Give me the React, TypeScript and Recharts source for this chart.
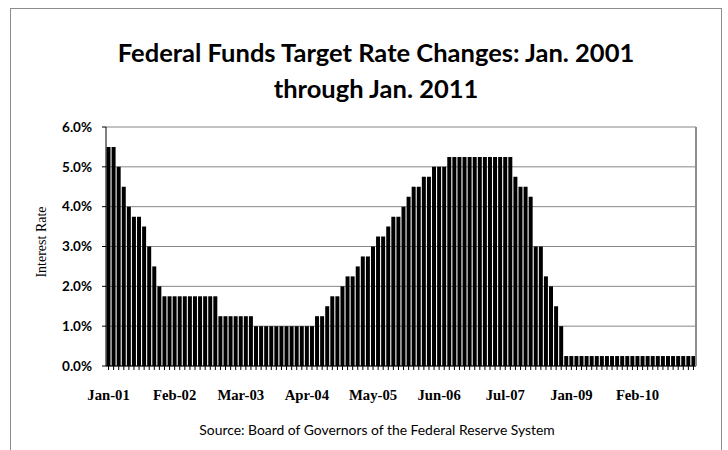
import { BarChart, Bar, XAxis, YAxis, CartesianGrid } from 'recharts';

// target rate (%) for each bar, left to right
const rates = [
  5.5, 5.5, 5.0, 4.5, 4.0, 3.75, 3.75, 3.5, 3.0, 2.5, 2.0,
  1.75, 1.75, 1.75, 1.75, 1.75, 1.75, 1.75, 1.75, 1.75, 1.75, 1.75,
  1.25, 1.25, 1.25, 1.25, 1.25, 1.25, 1.25,
  1.0, 1.0, 1.0, 1.0, 1.0, 1.0, 1.0, 1.0, 1.0, 1.0, 1.0, 1.0,
  1.25, 1.25, 1.5, 1.75, 1.75, 2.0, 2.25, 2.25, 2.5, 2.75, 2.75, 3.0,
  3.25, 3.25, 3.5, 3.75, 3.75, 4.0, 4.25, 4.5, 4.5, 4.75, 4.75,
  5.0, 5.0, 5.0,
  5.25, 5.25, 5.25, 5.25, 5.25, 5.25, 5.25, 5.25, 5.25, 5.25, 5.25, 5.25, 5.25,
  4.75, 4.5, 4.5, 4.25, 3.0, 3.0, 2.25, 2.0, 1.5, 1.0,
  0.25, 0.25, 0.25, 0.25, 0.25, 0.25, 0.25, 0.25, 0.25, 0.25, 0.25, 0.25, 0.25,
  0.25, 0.25, 0.25, 0.25, 0.25, 0.25, 0.25, 0.25, 0.25, 0.25, 0.25, 0.25, 0.25,
];

// labelled categories on the x axis (bar position -> text)
const labelBars = [0, 13, 26, 39, 52, 65, 78, 91, 104];
const labelText = ['Jan-01', 'Feb-02', 'Mar-03', 'Apr-04', 'May-05', 'Jun-06', 'Jul-07', 'Jan-09', 'Feb-10'];

const yTicks = [0, 1, 2, 3, 4, 5, 6];

const data = rates.map((rate, i) => ({ bar: i, rate }));

const XTick = ({ x, y, payload }: any) => {
  const k = labelBars.indexOf(payload.value);
  if (k < 0) return null;
  return (
    <text
      x={x}
      y={y}
      dy="0.71em"
      textAnchor="middle"
      fill="#000"
      style={{ fontFamily: '"Liberation Serif", serif', fontWeight: 700, fontSize: 14.7 }}
    >
      {labelText[k]}
    </text>
  );
};

export default function App() {
  return (
    <div
      style={{
        position: 'absolute',
        left: 0,
        top: 0,
        width: 728,
        height: 450,
        overflow: 'hidden',
        background: '#fff',
      }}
    >
      <div
        style={{
          position: 'absolute',
          left: 10,
          top: 8,
          width: 710,
          height: 520,
          border: '1px solid #8c8c8c',
        }}
      />
      <div
        style={{
          position: 'absolute',
          left: 0,
          top: 34,
          width: 752,
          textAlign: 'center',
          fontFamily: 'Lato, sans-serif',
          fontWeight: 700,
          fontSize: 25.5,
          lineHeight: '36px',
          color: '#000',
        }}
      >
        Federal Funds Target Rate Changes: Jan. 2001
        <br />
        through Jan. 2011
      </div>
      <div
        style={{
          position: 'absolute',
          left: 42,
          top: 242,
          transform: 'translate(-50%, -50%) rotate(-90deg)',
          whiteSpace: 'nowrap',
          fontFamily: '"Liberation Serif", serif',
          fontSize: 14,
          color: '#000',
        }}
      >
        Interest Rate
      </div>
      <div
        style={{
          position: 'absolute',
          left: 0,
          top: 422,
          width: 754,
          textAlign: 'center',
          fontFamily: 'Lato, sans-serif',
          fontSize: 13.9,
          lineHeight: '16px',
          color: '#000',
        }}
      >
        Source: Board of Governors of the Federal Reserve System
      </div>
      <div style={{ position: 'absolute', left: 0, top: 0 }}>
        <BarChart
          width={728}
          height={450}
          data={data}
          margin={{ top: 127, right: 31, bottom: 54, left: 0 }}
          barCategoryGap={0.5}
        >
          <CartesianGrid vertical={false} stroke="#868686" />
          <XAxis
            dataKey="bar"
            type="category"
            interval={0}
            height={30}
            tickSize={4}
            tickMargin={20}
            axisLine={{ stroke: '#000' }}
            tickLine={{ stroke: '#000' }}
            tick={<XTick />}
          />
          <YAxis
            width={106}
            domain={[0, 6]}
            ticks={yTicks}
            interval={0}
            tickSize={4}
            tickMargin={10}
            axisLine={{ stroke: '#000' }}
            tickLine={{ stroke: '#000' }}
            tickFormatter={(v: number) => `${v.toFixed(1)}%`}
            tick={{ fill: '#000', fontFamily: 'Lato, sans-serif', fontWeight: 700, fontSize: 13.5 }}
          />
          <YAxis
            yAxisId="frame"
            orientation="right"
            width={1}
            tick={false}
            tickLine={false}
            axisLine={{ stroke: '#8c8c8c', strokeWidth: 2 }}
          />
          <Bar dataKey="rate" fill="#000" isAnimationActive={false} />
        </BarChart>
      </div>
    </div>
  );
}
